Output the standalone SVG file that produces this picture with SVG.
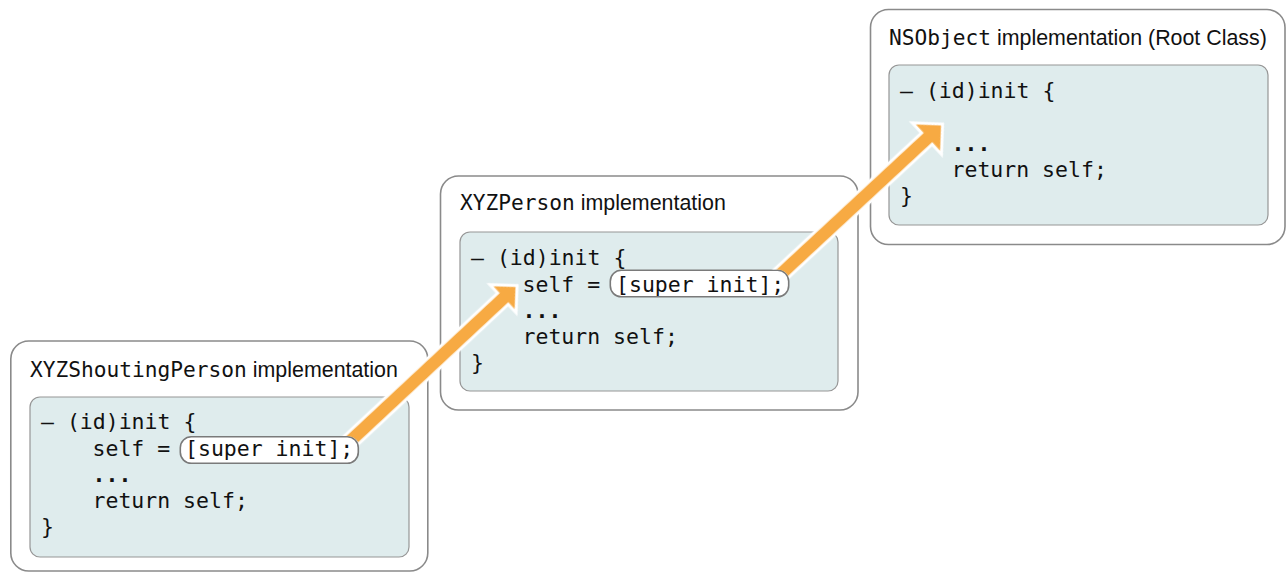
<svg xmlns="http://www.w3.org/2000/svg" width="1286" height="573" viewBox="0 0 1286 573">
<style>
.outer{fill:#ffffff;stroke:#8a8a8a;stroke-width:1.6}
.inner{fill:#dfeced;stroke:#969696;stroke-width:1.2}
.pill{fill:#ffffff;stroke:#7a7a7a;stroke-width:1.6}
.mono{font-family:"DejaVu Sans Mono","Liberation Mono",monospace;font-size:21.5px;fill:#111111}
.tmono{font-family:"DejaVu Sans Mono","Liberation Mono",monospace;font-size:21.2px;fill:#111111}
.dots{font-weight:bold}
.sans{font-family:"Liberation Sans",Arial,sans-serif;font-size:21.4px;fill:#111111}
.arrow{fill:#f7aa43;stroke:#ffffff;stroke-width:6;stroke-linejoin:miter;stroke-miterlimit:10;paint-order:stroke fill}
</style>
<defs>
<mask id="pillmask" maskUnits="userSpaceOnUse" x="0" y="0" width="1286" height="573">
<rect x="0" y="0" width="1286" height="573" fill="#ffffff"/>
<rect x="179.5" y="436" width="180" height="28" rx="12" fill="#000000"/>
<rect x="609.5" y="269.5" width="180" height="28" rx="12" fill="#000000"/>
</mask>
</defs>
<rect width="1286" height="573" fill="#ffffff"/>

<g id="node-xyzshoutingperson">
<rect class="outer" x="10.8" y="341" width="417" height="230" rx="18"/>
<text x="30" y="377"><tspan class="tmono">XYZShoutingPerson</tspan><tspan class="sans"> implementation</tspan></text>
<rect class="inner" x="30" y="397" width="379" height="160" rx="10"/>
<text class="mono" x="41" y="429">– (id)init {</text>
<text class="mono" x="92.5" y="455.5">self =</text>
<rect class="pill" x="180.3" y="436.8" width="178" height="26.5" rx="11"/>
<text class="mono" x="185" y="455.5">[super init];</text>
<text class="mono dots" x="92.5" y="482">...</text>
<text class="mono" x="92.5" y="508">return self;</text>
<text class="mono" x="41" y="534">}</text>
</g>

<g id="node-xyzperson">
<rect class="outer" x="440.5" y="176" width="417.5" height="234" rx="18"/>
<text x="460" y="210"><tspan class="tmono">XYZPerson</tspan><tspan class="sans"> implementation</tspan></text>
<rect class="inner" x="460" y="232" width="378" height="159" rx="10"/>
<text class="mono" x="471" y="265">– (id)init {</text>
<text class="mono" x="522.5" y="291.5">self =</text>
<rect class="pill" x="610.3" y="270.3" width="178.4" height="26.5" rx="11"/>
<text class="mono" x="616" y="291.5">[super init];</text>
<text class="mono dots" x="522.5" y="318">...</text>
<text class="mono" x="522.5" y="344">return self;</text>
<text class="mono" x="471" y="370">}</text>
</g>

<g id="node-nsobject">
<rect class="outer" x="870.5" y="9.5" width="414.5" height="235" rx="18"/>
<text x="889" y="45"><tspan class="tmono">NSObject</tspan><tspan class="sans"> implementation (Root Class)</tspan></text>
<rect class="inner" x="889" y="65" width="379" height="160" rx="10"/>
<text class="mono" x="900" y="98">– (id)init {</text>
<text class="mono dots" x="951.5" y="150.5">...</text>
<text class="mono" x="951.5" y="177">return self;</text>
<text class="mono" x="900" y="203">}</text>
</g>

<g id="connectors" mask="url(#pillmask)">
<polygon class="arrow" transform="translate(515.5,287) rotate(-43)" points="0,0 -15.6,-15.6 -15.6,-6.3 -233,-6.3 -233,6.3 -15.6,6.3 -15.6,15.6"/>
<polygon class="arrow" transform="translate(941,125.5) rotate(-42.85)" points="0,0 -17.7,-17.7 -17.7,-6.3 -226,-6.3 -226,6.3 -17.7,6.3 -17.7,17.7"/>
</g>
</svg>
